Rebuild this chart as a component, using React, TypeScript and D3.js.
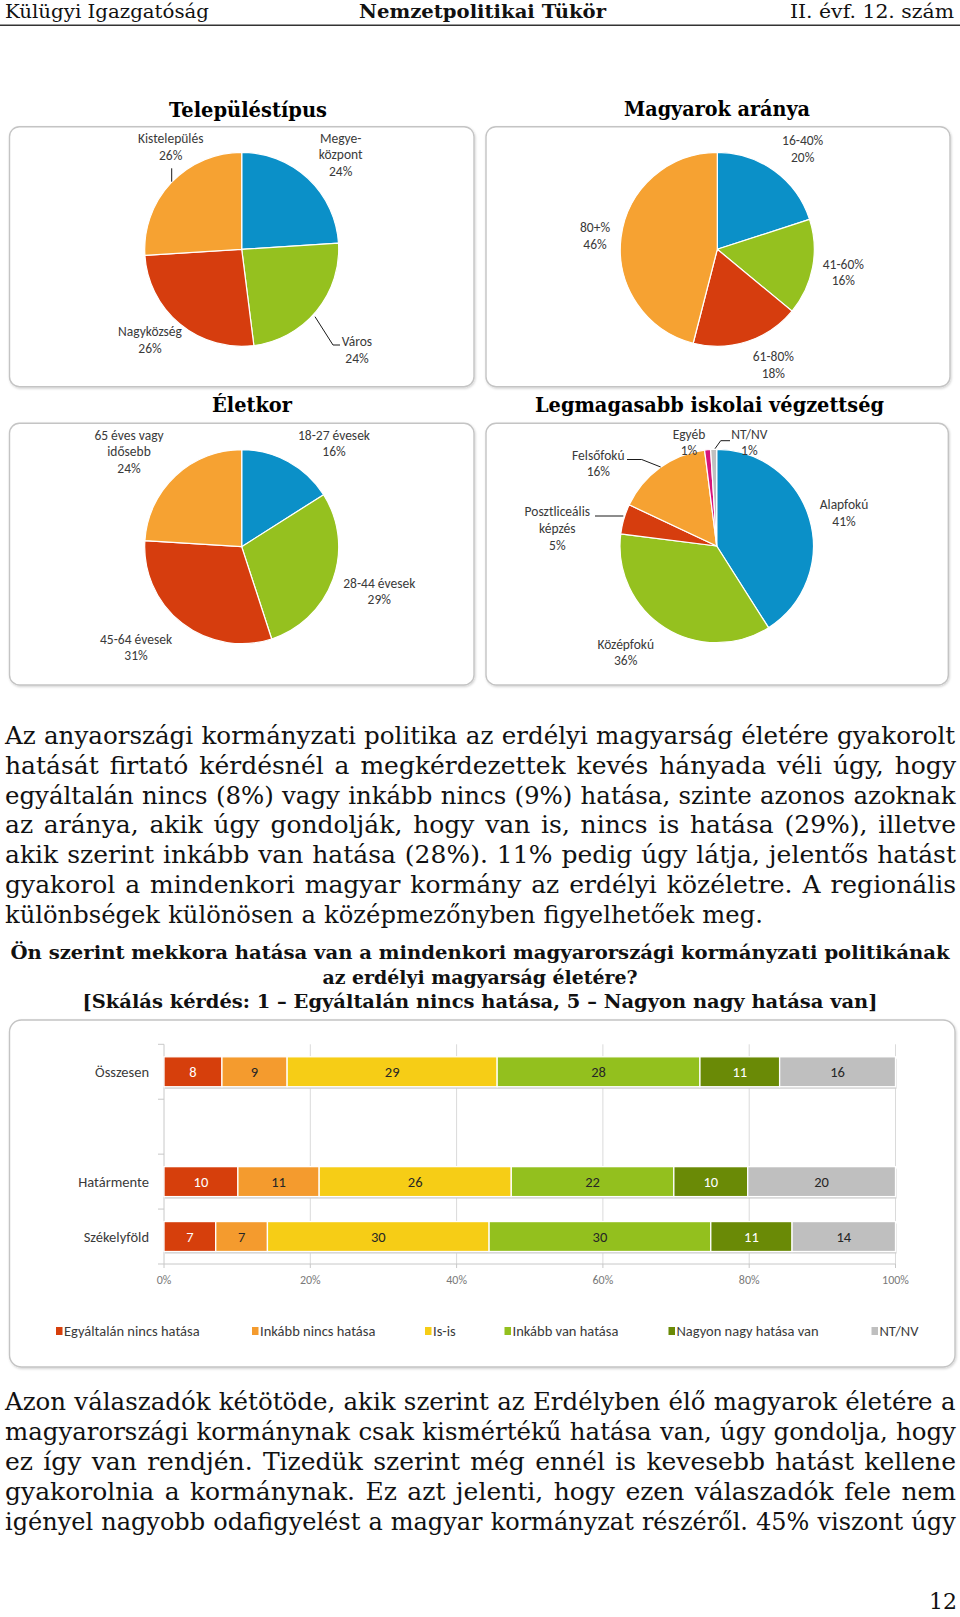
import React, { useMemo } from "react";
import * as d3 from "d3";

// ---------- DATA ----------
const settlementLabels = ["Megye-\nközpont", "Város", "Nagyközség", "Kistelepülés"];
const settlementValues = [24, 24, 26, 26];

const shareLabels = ["16-40%", "41-60%", "61-80%", "80+%"];
const shareValues = [20, 16, 18, 46];

const ageLabels = ["18-27 évesek", "28-44 évesek", "45-64 évesek", "65 éves vagy\nidősebb"];
const ageValues = [16, 29, 31, 24];

const eduLabels = ["Alapfokú", "Középfokú", "Posztliceális\nképzés", "Felsőfokú", "Egyéb", "NT/NV"];
const eduValues = [41, 36, 5, 16, 1, 1];

const barCategories = ["Összesen", "", "Határmente", "Székelyföld"];
const barSeries = [
  "Egyáltalán nincs hatása",
  "Inkább nincs hatása",
  "Is-is",
  "Inkább van hatása",
  "Nagyon nagy hatása van",
  "NT/NV",
];
const osszesenValues = [8, 9, 29, 28, 11, 16];
const hatarmenteValues = [10, 11, 26, 22, 10, 20];
const szekelyfoldValues = [7, 7, 30, 30, 11, 14];
const barRows: (number[] | null)[] = [osszesenValues, null, hatarmenteValues, szekelyfoldValues];

const para1 = [
  "Az anyaországi kormányzati politika az erdélyi magyarság életére gyakorolt",
  "hatását firtató kérdésnél a megkérdezettek kevés hányada véli úgy, hogy",
  "egyáltalán nincs (8%) vagy inkább nincs (9%) hatása, szinte azonos azoknak",
  "az aránya, akik úgy gondolják, hogy van is, nincs is hatása (29%), illetve",
  "akik szerint inkább van hatása (28%). 11% pedig úgy látja, jelentős hatást",
  "gyakorol a mindenkori magyar kormány az erdélyi közéletre. A regionális",
  "különbségek különösen a középmezőnyben figyelhetőek meg.",
];
const para2 = [
  "Azon válaszadók kétötöde, akik szerint az Erdélyben élő magyarok életére a",
  "magyarországi kormánynak csak kismértékű hatása van, úgy gondolja, hogy",
  "ez így van rendjén. Tizedük szerint még ennél is kevesebb hatást kellene",
  "gyakorolnia a kormánynak. Ez azt jelenti, hogy ezen válaszadók fele nem",
  "igényel nagyobb odafigyelést a magyar kormányzat részéről. 45% viszont úgy",
];
const questionLines = [
  "Ön szerint mekkora hatása van a mindenkori magyarországi kormányzati politikának",
  "az erdélyi magyarság életére?",
  "[Skálás kérdés: 1 – Egyáltalán nincs hatása, 5 – Nagyon nagy hatása van]",
];

// ---------- STYLE / LAYOUT ----------
const SERIF = "'DejaVu Serif', serif";
const SANS = "Carlito, Lato, 'Open Sans', sans-serif";
const C = {
  blue: "#0b90c8",
  green: "#95c11f",
  red: "#d63d0e",
  orange: "#f6a232",
  magenta: "#d6147c",
  grey: "#c0c0c0",
};
const barColors = ["#d63f0c", "#f49b2e", "#f6cd16", "#93c01e", "#6a8a06", "#bfbfbf"];
const barTextColors = ["#ffffff", "#262626", "#262626", "#262626", "#ffffff", "#262626"];

type PieCfg = {
  title: string;
  titleX: number;
  titleY: number;
  titleW: number;
  box: [number, number, number, number];
  cx: number;
  cy: number;
  r: number;
  labels: string[];
  values: number[];
  colors: string[];
  labelPos: [number, number][];
  leaders: Record<number, [number, number][]>;
};

const pies: PieCfg[] = [
  {
    title: "Településtípus",
    titleX: 248, titleY: 116.5, titleW: 158,
    box: [9.5, 126.7, 464.5, 260],
    cx: 241.7, cy: 249.3, r: 97,
    labels: settlementLabels, values: settlementValues,
    colors: [C.blue, C.green, C.red, C.orange],
    labelPos: [[99, -111.3], [115.3, 92.7], [-91.7, 82.4], [-71, -111]],
    leaders: {
      1: [[73.3, 67.4], [91.3, 95.7], [98.3, 95.7]],
      3: [[-70, -81], [-70, -67.6]],
    },
  },
  {
    title: "Magyarok aránya",
    titleX: 717, titleY: 116, titleW: 186,
    box: [486, 126.7, 464, 260],
    cx: 717.3, cy: 249.3, r: 97,
    labels: shareLabels, values: shareValues,
    colors: [C.blue, C.green, C.red, C.orange],
    labelPos: [[85.4, -108.6], [126, 15], [56, 107.4], [-122.3, -22]],
    leaders: {},
  },
  {
    title: "Életkor",
    titleX: 252, titleY: 411.7, titleW: 80,
    box: [9.5, 423.3, 464.5, 261.7],
    cx: 241.7, cy: 546.7, r: 97,
    labels: ageLabels, values: ageValues,
    colors: [C.blue, C.green, C.red, C.orange],
    labelPos: [[92.3, -111.7], [137.6, 36.6], [-105.7, 92.6], [-112.7, -111.7]],
    leaders: {},
  },
  {
    title: "Legmagasabb iskolai végzettség",
    titleX: 709.5, titleY: 412, titleW: 349,
    box: [486, 423.3, 462.3, 261.7],
    cx: 716.7, cy: 546, r: 96.7,
    labels: eduLabels, values: eduValues,
    colors: [C.blue, C.green, C.red, C.orange, C.magenta, C.grey],
    labelPos: [[127.3, -41.7], [-91, 98], [-159.4, -34.3], [-118.4, -91], [-27.7, -112], [32.6, -112]],
    leaders: {
      2: [[-121.7, -30], [-93.4, -30]],
      3: [[-89.7, -86.5], [-75, -86.5], [-56, -79]],
      5: [[13.3, -105.3], [4, -105.3], [-1.7, -97.3]],
    },
  },
];

const LABEL_LH = 16.7;

function PieChart({ cfg }: { cfg: PieCfg }) {
  const arcs = d3.pie<number>().sort(null).value((d) => d)(cfg.values);
  const arc = d3.arc<d3.PieArcDatum<number>>().innerRadius(0).outerRadius(cfg.r);
  const line = d3.line();
  const [bx, by, bw, bh] = cfg.box;
  return (
    <g>
      <text
        x={cfg.titleX}
        y={cfg.titleY}
        textAnchor="middle"
        fontFamily={SERIF}
        fontWeight="bold"
        fontSize={19.5}
        textLength={cfg.titleW}
        lengthAdjust="spacingAndGlyphs"
        fill="#000"
      >
        {cfg.title}
      </text>
      <rect x={bx} y={by} width={bw} height={bh} rx={10} fill="#fff" stroke="#c4c4c4" strokeWidth={1.4} filter="url(#boxsh)" />
      <g transform={`translate(${cfg.cx},${cfg.cy})`}>
        {arcs.map((a, i) => (
          <path key={i} d={arc(a) || ""} fill={cfg.colors[i]} stroke="#fff" strokeWidth={1.2} />
        ))}
        {Object.entries(cfg.leaders).map(([k, pts]) => (
          <path key={"l" + k} d={line(pts as [number, number][]) || ""} fill="none" stroke="#1a1a1a" strokeWidth={1} />
        ))}
        {cfg.labels.map((lab, i) => {
          const lines = [...lab.split("\n"), `${cfg.values[i]}%`];
          const [dx, dy] = cfg.labelPos[i];
          return (
            <text key={"t" + i} textAnchor="middle" fontFamily={SANS} fontSize={13.5} fill="#3a3a3a">
              {lines.map((l, j) => (
                <tspan key={j} x={dx} y={dy + j * LABEL_LH + 4.5}>
                  {l}
                </tspan>
              ))}
            </text>
          );
        })}
      </g>
    </g>
  );
}

// ---------- BAR CHART ----------
const BAR = { x0: 164, x1: 895.5, y0: 1044.3, y1: 1264 };
const legendX = [56, 252, 425, 504.5, 668.5, 871.5];

function BarChart() {
  const x = d3.scaleLinear().domain([0, 1]).range([BAR.x0, BAR.x1]);
  const y = d3
    .scaleBand<string>()
    .domain(barCategories)
    .range([BAR.y0, BAR.y1])
    .paddingInner(0.4545)
    .paddingOuter(0.2273);
  const table = barCategories.map((cat, i) => {
    const row: Record<string, any> = { cat };
    barSeries.forEach((s, j) => (row[s] = barRows[i] ? (barRows[i] as number[])[j] : 0));
    return row;
  });
  const stacked = d3
    .stack<Record<string, any>>()
    .keys(barSeries)
    .offset(d3.stackOffsetExpand)(table);
  const ticks = x.ticks(5);
  const fmt = d3.format(".0%");
  const step = y.step();
  const slotBounds = d3.range(barCategories.length + 1).map((i) => BAR.y0 + i * step);
  const bw = y.bandwidth();
  return (
    <g>
      <rect x={9.5} y={1020} width={945.5} height={347} rx={12} fill="#fff" stroke="#c4c4c4" strokeWidth={1.4} filter="url(#boxsh)" />
      {ticks.filter((t) => t > 0).map((t) => (
        <line key={"g" + t} x1={x(t)} x2={x(t)} y1={BAR.y0} y2={BAR.y1} stroke="#dadada" strokeWidth={1} />
      ))}
      <line x1={BAR.x0} x2={BAR.x0} y1={BAR.y0} y2={BAR.y1} stroke="#c8c8c8" strokeWidth={1} />
      <line x1={BAR.x0} x2={BAR.x1} y1={BAR.y1} y2={BAR.y1} stroke="#c8c8c8" strokeWidth={1} />
      {slotBounds.map((yy, i) => (
        <line key={"yt" + i} x1={BAR.x0 - 6} x2={BAR.x0} y1={yy} y2={yy} stroke="#c8c8c8" strokeWidth={1} />
      ))}
      {ticks.map((t) => (
        <g key={"xt" + t}>
          <line x1={x(t)} x2={x(t)} y1={BAR.y1} y2={BAR.y1 + 4} stroke="#c8c8c8" strokeWidth={1} />
          <text x={x(t)} y={BAR.y1 + 20} textAnchor="middle" fontFamily={SANS} fontSize={12} fill="#7a7a7a">
            {fmt(t)}
          </text>
        </g>
      ))}
      {barCategories.map((c) => (
        <text key={"c" + c} x={149} y={(y(c) as number) + bw / 2 + 5} textAnchor="end" fontFamily={SANS} fontSize={14.5} fill="#3a3a3a">
          {c}
        </text>
      ))}
      {barCategories.map((c, i) =>
        barRows[i] ? (
          <rect key={"sh" + c} x={BAR.x0 + 1} y={(y(c) as number) + 2} width={BAR.x1 - BAR.x0} height={bw} fill="#cfcfcf" />
        ) : null
      )}
      {stacked.map((ser, si) =>
        ser.map((d, ci) => {
          if (!barRows[ci]) return null;
          const cat = barCategories[ci];
          const x0 = x(d[0]);
          const x1 = x(d[1]);
          const yy = y(cat) as number;
          return (
            <g key={si + "-" + ci}>
              <rect x={x0} y={yy} width={x1 - x0} height={bw} fill={barColors[si]} stroke="#fff" strokeWidth={1.3} />
              <text x={(x0 + x1) / 2} y={yy + bw / 2 + 5} textAnchor="middle" fontFamily={SANS} fontSize={14.5} fill={barTextColors[si]}>
                {(barRows[ci] as number[])[si]}
              </text>
            </g>
          );
        })
      )}
      {barSeries.map((s, i) => (
        <g key={"lg" + i}>
          <rect x={legendX[i]} y={1327} width={6.5} height={8} fill={barColors[i]} />
          <text x={legendX[i] + 8} y={1336} fontFamily={SANS} fontSize={14.5} fill="#3a3a3a">
            {s}
          </text>
        </g>
      ))}
    </g>
  );
}

// ---------- TEXT ----------
const MIN_WS = 0.5; // extra px added to each normal space at minimum

function Justified({
  lines,
  x,
  y0,
  lh,
  widths,
  size,
  measure,
}: {
  lines: string[];
  x: number;
  y0: number;
  lh: number;
  widths: number[];
  size: number;
  measure: (t: string, f: string) => number | null;
}) {
  const font = `${size}px "DejaVu Serif"`;
  return (
    <g>
      {lines.map((l, i) => {
        const w0 = measure(l, font);
        const spaces = (l.match(/ /g) || []).length;
        const target = widths[i];
        const y = y0 + i * lh;
        if (w0 == null || spaces === 0) {
          return (
            <text key={i} x={x} y={y} fontFamily={SERIF} fontSize={size} textLength={target} lengthAdjust="spacingAndGlyphs" fill="#111">
              {l}
            </text>
          );
        }
        let ws = (target - w0) / spaces;
        let sx = 1;
        if (ws < MIN_WS) {
          ws = MIN_WS;
          sx = target / (w0 + spaces * MIN_WS);
        }
        return (
          <text
            key={i}
            transform={`translate(${x},${y}) scale(${sx},1)`}
            fontFamily={SERIF}
            fontSize={size}
            style={{ wordSpacing: `${ws}px` }}
            fill="#111"
          >
            {l}
          </text>
        );
      })}
    </g>
  );
}

export default function App() {
  const measure = useMemo(() => {
    let ctx: CanvasRenderingContext2D | null = null;
    try {
      ctx = document.createElement("canvas").getContext("2d");
    } catch (e) {
      ctx = null;
    }
    return (t: string, f: string) => {
      if (!ctx) return null;
      ctx.font = f;
      return ctx.measureText(t).width;
    };
  }, []);

  const p1Widths = para1.map((_, i) => (i === para1.length - 1 ? 758 : 951));
  const p2Widths = para2.map(() => 951);

  return (
    <svg
      width={960}
      height={1617}
      viewBox="0 0 960 1617"
      style={{ position: "absolute", left: 0, top: 0, background: "#fff" }}
    >
      <defs>
        <filter id="boxsh" x="-3%" y="-3%" width="106%" height="106%">
          <feDropShadow dx={0.8} dy={1.2} stdDeviation={1} floodColor="#000" floodOpacity={0.18} />
        </filter>
      </defs>
      <rect x={0} y={0} width={960} height={1617} fill="#fff" />
      <text x={5} y={18} fontFamily={SERIF} fontSize={19} textLength={204} lengthAdjust="spacingAndGlyphs" fill="#111">
        Külügyi Igazgatóság
      </text>
      <text x={482.5} y={18} textAnchor="middle" fontFamily={SERIF} fontWeight="bold" fontSize={19} textLength={247} lengthAdjust="spacingAndGlyphs" fill="#111">
        Nemzetpolitikai Tükör
      </text>
      <text x={954} y={18} textAnchor="end" fontFamily={SERIF} fontSize={19} textLength={164} lengthAdjust="spacingAndGlyphs" fill="#111">
        II. évf. 12. szám
      </text>
      <line x1={0} x2={960} y1={25.3} y2={25.3} stroke="#333" strokeWidth={1.6} />

      {pies.map((p, i) => (
        <PieChart key={i} cfg={p} />
      ))}

      <Justified lines={para1} x={5} y0={744} lh={29.8} widths={p1Widths} size={25} measure={measure} />

      {questionLines.map((q, i) => (
        <text
          key={i}
          x={480}
          y={[958.5, 984, 1008][i]}
          textAnchor="middle"
          fontFamily={SERIF}
          fontWeight="bold"
          fontSize={18}
          textLength={[939, 315, 795][i]}
          lengthAdjust="spacingAndGlyphs"
          fill="#111"
        >
          {q}
        </text>
      ))}

      <BarChart />

      <Justified lines={para2} x={5} y0={1410} lh={29.9} widths={p2Widths} size={25} measure={measure} />

      <text x={957} y={1609} textAnchor="end" fontFamily={SERIF} fontSize={22} fill="#111">
        12
      </text>
    </svg>
  );
}
